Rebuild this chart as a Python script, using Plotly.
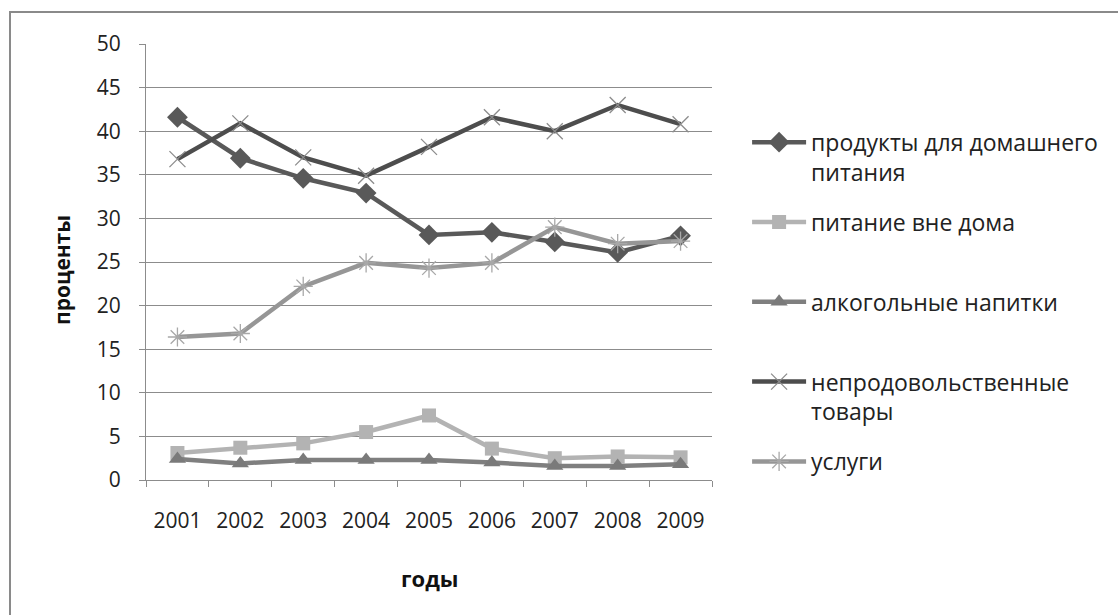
import plotly.graph_objects as go

years = ["2001", "2002", "2003", "2004", "2005", "2006", "2007", "2008", "2009"]
products_home = [41.6, 36.9, 34.6, 32.9, 28.1, 28.4, 27.3, 26.1, 28.0]
eating_out = [3.1, 3.7, 4.2, 5.5, 7.4, 3.6, 2.5, 2.7, 2.6]
alcohol = [2.4, 1.9, 2.3, 2.3, 2.3, 2.0, 1.6, 1.6, 1.8]
non_food = [36.8, 40.9, 37.0, 34.9, 38.2, 41.6, 40.0, 43.0, 40.8]
services = [16.4, 16.8, 22.2, 24.9, 24.3, 24.9, 29.0, 27.1, 27.4]

names = [
    "продукты для домашнего<br>питания",
    "питание вне дома<br>\u00a0",
    "алкогольные напитки<br>\u00a0",
    "непродовольственные<br>товары",
    "услуги<br>\u00a0",
]

FONT = "Open Sans"

fig = go.Figure()
fig.add_trace(go.Scatter(x=years, y=products_home, name=names[0], mode="lines+markers",
                         line=dict(color="#595959", width=4.5),
                         marker=dict(symbol="diamond", size=16, color="#595959"),
                         legendgroup="a"))
fig.add_trace(go.Scatter(x=years, y=eating_out, name=names[1], mode="lines+markers",
                         line=dict(color="#b3b3b3", width=4.5),
                         marker=dict(symbol="square", size=14, color="#b3b3b3"),
                         legendgroup="b"))
fig.add_trace(go.Scatter(x=years, y=alcohol, name=names[2], mode="lines+markers",
                         line=dict(color="#7f7f7f", width=4.5),
                         marker=dict(symbol="triangle-up", size=15, color="#7a7a7a"),
                         legendgroup="c"))
fig.add_trace(go.Scatter(x=years, y=non_food, name=names[3], mode="lines+markers",
                         line=dict(color="#4d4d4d", width=4.5),
                         marker=dict(symbol="x-thin-open", size=16, color="#8c8c8c",
                                     line=dict(color="#8c8c8c", width=1.3)),
                         legendgroup="d"))
fig.add_trace(go.Scatter(x=years, y=services, name=names[4], mode="lines+markers",
                         line=dict(color="#969696", width=4.5),
                         marker=dict(symbol="asterisk-open", size=16, color="#a8a8a8",
                                     line=dict(color="#a8a8a8", width=1.3)),
                         legendgroup="e"))

fig.update_layout(
    width=1118, height=615,
    margin=dict(l=146, r=406, t=44, b=135, autoexpand=False),
    paper_bgcolor="white", plot_bgcolor="white",
    font=dict(family=FONT, size=18, color="#222222"),
    showlegend=True,
    legend=dict(x=1.062, xanchor="left", y=0.824, yanchor="top",
                font=dict(family=FONT, size=23, color="#222222"),
                valign="top", tracegroupgap=17, itemwidth=54,
                bgcolor="rgba(0,0,0,0)"),
    xaxis=dict(type="category", range=[-0.5, 8.5], showgrid=False, showline=True,
               linecolor="#8c8c8c", linewidth=1, ticks="outside", tickson="boundaries",
               ticklen=6, tickcolor="#8c8c8c",
               tickfont=dict(family=FONT, size=21, color="#222222"),
               ticklabelstandoff=22, zeroline=False, fixedrange=True),
    yaxis=dict(range=[0, 50], dtick=5, showgrid=True, gridcolor="#8c8c8c", gridwidth=1,
               showline=True, linecolor="#8c8c8c", linewidth=1, ticks="outside",
               ticklen=6, tickcolor="#8c8c8c", zeroline=False,
               tickfont=dict(family=FONT, size=21, color="#222222"),
               ticklabelstandoff=14, fixedrange=True),
    annotations=[
        dict(text="<b>проценты</b>", x=(62 - 146) / 566, y=(480 - 270) / 436,
             xref="paper", yref="paper", textangle=-90, showarrow=False,
             font=dict(family=FONT, size=21, color="#111111"),
             xanchor="center", yanchor="middle"),
        dict(text="<b>годы</b>", x=0.5, y=(480 - 578) / 436,
             xref="paper", yref="paper", showarrow=False,
             font=dict(family=FONT, size=22, color="#111111"),
             xanchor="center", yanchor="middle"),
    ],
    shapes=[
        dict(type="rect", xref="paper", yref="paper",
             x0=(10 - 146) / 566, x1=(1130 - 146) / 566,
             y0=(480 - 630) / 436, y1=(480 - 12) / 436,
             line=dict(color="#8a8a8a", width=2), fillcolor="rgba(0,0,0,0)", layer="below"),
    ],
)

fig.write_html("out.html")
